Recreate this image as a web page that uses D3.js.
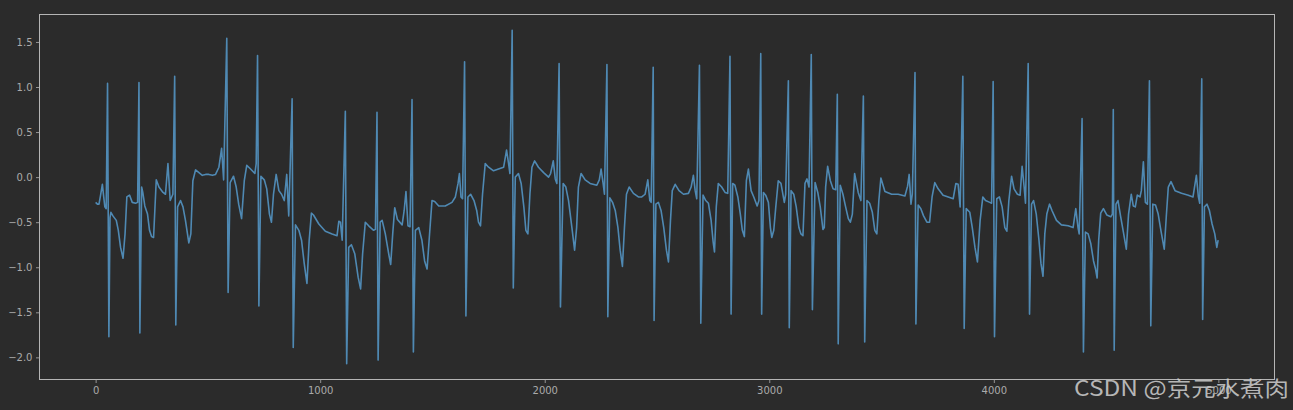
<!DOCTYPE html>
<html>
<head>
<meta charset="utf-8">
<script src="https://cdn.jsdelivr.net/npm/d3@7"></script>
<style>
  html, body { margin: 0; padding: 0; background: #2b2b2b; }
  svg { display: block; }
</style>
</head>
<body>
<svg id="chart" width="1293" height="410"></svg>
<script>
// Sample index (x) and signal value (y)
const sampleIndex = [
0,8,15,22,30,36,41,47,53,59,64,68,77,92,101,111,122,131,139,151,163,178,187,193,197,205,210,219,231,240,249,258,270,282,300,311,322,332,344,352,357,365,378,389,400,415,424,433,445,460,475,490,504,520,534,549,561,570,584,590,599,614,626,637,650,662,673,690,709,715,721,727,736,751,762,774,783,792,804,816,828,840,851,860,875,880,890,905,917,929,941,951,961,970,994,1023,1053,1075,1083,1090,1098,1112,1118,1127,1139,1154,1169,1180,1189,1201,1216,1238,1246,1253,1258,1267,1276,1290,1305,1314,1323,1332,1344,1365,1374,1382,1391,1400,1409,1415,1424,1439,1453,1465,1476,1486,1498,1510,1528,1557,1587,1602,1614,1620,1627,1634,1643,1649,1658,1670,1685,1697,1705,1714,1723,1735,1750,1772,1794,1817,1830,1839,1845,1855,1860,1869,1883,1895,1907,1916,1925,1934,1943,1955,1972,1995,2017,2026,2038,2047,2054,2064,2070,2082,2094,2106,2121,2133,2142,2150,2162,2180,2202,2232,2243,2251,2260,2266,2277,2281,2290,2302,2314,2326,2336,2346,2355,2364,2376,2395,2417,2432,2447,2459,2468,2474,2483,2487,2495,2506,2518,2530,2542,2551,2560,2568,2581,2598,2618,2640,2652,2662,2670,2677,2689,2695,2705,2717,2729,2741,2750,2756,2764,2773,2788,2803,2815,2825,2830,2837,2847,2860,2871,2880,2889,2898,2907,2919,2931,2946,2954,2962,2966,2974,2984,2996,3005,3011,3020,3029,3040,3052,3067,3073,3085,3089,3097,3109,3120,3132,3141,3150,3159,3168,3177,3187,3192,3204,3216,3227,3239,3245,3251,3260,3272,3284,3296,3303,3307,3316,3328,3340,3352,3361,3370,3380,3396,3408,3419,3425,3435,3447,3459,3470,3479,3488,3497,3515,3545,3574,3604,3616,3623,3631,3637,3649,3653,3663,3675,3687,3702,3714,3725,3737,3752,3774,3797,3819,3831,3841,3850,3862,3868,3877,3893,3904,3916,3927,3939,3951,3963,3982,3990,3997,4003,4013,4025,4037,4049,4058,4067,4079,4090,4105,4117,4126,4135,4141,4153,4159,4168,4177,4189,4201,4210,4219,4227,4236,4248,4259,4279,4301,4331,4353,4365,4375,4380,4393,4399,4408,4420,4432,4444,4453,4460,4467,4476,4488,4503,4521,4528,4532,4536,4544,4553,4565,4577,4590,4600,4612,4621,4630,4639,4651,4657,4666,4675,4684,4693,4699,4708,4720,4732,4744,4759,4768,4777,4789,4807,4836,4866,4887,4902,4911,4917,4926,4930,4938,4949,4960,4972,4984,4993,4999
];
const signalValues = [
-0.28,-0.30,-0.30,-0.20,-0.08,-0.22,-0.33,-0.35,1.04,-1.77,-0.45,-0.39,-0.43,-0.48,-0.59,-0.78,-0.90,-0.63,-0.22,-0.20,-0.28,-0.29,-0.28,1.05,-1.73,-0.11,-0.17,-0.32,-0.41,-0.59,-0.66,-0.67,-0.03,-0.11,-0.17,-0.19,0.15,-0.26,-0.19,1.12,-1.64,-0.33,-0.26,-0.33,-0.48,-0.73,-0.63,-0.04,0.08,0.05,0.02,0.03,0.03,0.02,0.03,0.11,0.32,-0.03,1.54,-1.28,-0.06,0.01,-0.11,-0.30,-0.46,-0.04,0.13,0.09,0.04,0.15,1.35,-1.43,0.01,-0.03,-0.13,-0.41,-0.50,-0.19,0.03,-0.15,-0.19,-0.26,0.03,-0.43,0.87,-1.89,-0.53,-0.59,-0.70,-0.96,-1.18,-0.70,-0.40,-0.42,-0.52,-0.60,-0.63,-0.65,-0.49,-0.50,-0.70,0.73,-2.07,-0.78,-0.75,-0.85,-1.11,-1.24,-0.85,-0.50,-0.54,-0.59,-0.58,0.72,-2.03,-0.50,-0.48,-0.63,-0.85,-0.97,-0.63,-0.34,-0.47,-0.53,-0.37,-0.16,-0.54,-0.55,0.86,-1.94,-0.59,-0.56,-0.70,-0.93,-1.02,-0.67,-0.26,-0.27,-0.32,-0.32,-0.28,-0.22,-0.07,0.04,-0.22,-0.24,1.28,-1.54,-0.22,-0.19,-0.26,-0.37,-0.50,-0.54,-0.19,0.15,0.11,0.07,0.09,0.11,0.30,0.15,0.04,1.63,-1.23,0.00,0.04,-0.07,-0.33,-0.59,-0.63,-0.19,0.11,0.18,0.11,0.05,0.00,0.04,0.18,-0.02,-0.07,1.26,-1.44,-0.07,-0.11,-0.26,-0.56,-0.81,-0.56,-0.11,0.04,-0.03,-0.07,-0.09,-0.03,0.09,-0.07,-0.19,1.25,-1.55,-0.23,-0.28,-0.37,-0.56,-0.81,-0.99,-0.56,-0.19,-0.11,-0.18,-0.22,-0.22,-0.19,-0.03,-0.26,-0.28,1.22,-1.59,-0.30,-0.28,-0.37,-0.56,-0.81,-0.94,-0.48,-0.15,-0.08,-0.15,-0.19,-0.18,-0.11,0.02,-0.15,-0.24,1.24,-1.62,-0.20,-0.26,-0.29,-0.48,-0.72,-0.83,-0.33,-0.07,-0.11,-0.17,-0.18,1.34,-1.52,-0.07,-0.09,-0.22,-0.41,-0.59,-0.66,-0.04,0.09,-0.15,-0.22,-0.32,-0.26,1.37,-1.52,-0.17,-0.20,-0.28,-0.56,-0.67,-0.59,-0.33,-0.04,-0.07,-0.28,-0.19,1.07,-1.67,-0.15,-0.19,-0.33,-0.56,-0.63,-0.65,-0.07,-0.02,-0.11,1.36,-1.47,-0.06,-0.17,-0.33,-0.58,-0.56,-0.11,0.12,-0.04,-0.13,-0.14,0.92,-1.85,-0.09,-0.19,-0.33,-0.46,-0.50,-0.41,0.04,-0.17,-0.26,0.90,-1.83,-0.26,-0.29,-0.39,-0.59,-0.63,-0.26,-0.01,-0.16,-0.19,-0.19,-0.21,-0.10,0.03,-0.30,-0.19,1.16,-1.63,-0.31,-0.35,-0.43,-0.50,-0.50,-0.22,-0.06,-0.13,-0.20,-0.22,-0.24,-0.07,-0.08,-0.33,1.12,-1.68,-0.35,-0.39,-0.56,-0.78,-0.94,-0.48,-0.22,-0.26,-0.28,-0.29,1.06,-1.77,-0.24,-0.22,-0.33,-0.56,-0.60,-0.26,0.01,-0.13,-0.19,-0.20,0.12,-0.11,-0.29,1.26,-1.52,-0.30,-0.26,-0.41,-0.70,-0.96,-1.10,-0.63,-0.41,-0.30,-0.37,-0.48,-0.53,-0.54,-0.56,-0.35,-0.56,-0.63,0.65,-1.94,-0.61,-0.63,-0.74,-0.93,-1.02,-1.12,-0.70,-0.40,-0.35,-0.42,-0.44,-0.41,0.75,-1.92,-0.30,-0.26,-0.44,-0.61,-0.80,-0.41,-0.19,-0.32,-0.33,-0.20,-0.22,-0.15,0.17,-0.28,-0.30,1.07,-1.65,-0.30,-0.31,-0.41,-0.59,-0.80,-0.44,-0.11,-0.05,-0.15,-0.18,-0.20,-0.22,0.02,-0.22,-0.29,1.09,-1.58,-0.33,-0.30,-0.37,-0.52,-0.63,-0.78,-0.70
];
const xTickValues = [0, 1000, 2000, 3000, 4000, 5000];
const yTickValues = [-2.0, -1.5, -1.0, -0.5, 0.0, 0.5, 1.0, 1.5];
const watermarkText = "CSDN @京元水煮肉";

const points = sampleIndex.map((x, i) => ({ x: x, y: signalValues[i] }));

const svg = d3.select("#chart");
const W = 1293, H = 410;
const margin = { left: 39.5, right: 1274.5, top: 14.5, bottom: 379.5 };

svg.append("rect").attr("x", 0).attr("y", 0).attr("width", W).attr("height", H).attr("fill", "#2b2b2b");

const x = d3.scaleLinear().domain([-250, 5249.95]).range([margin.left, margin.right]);
const y = d3.scaleLinear().domain([-2.2455, 1.8045]).range([margin.bottom, margin.top]);

// line
const line = d3.line().x(d => x(d.x)).y(d => y(d.y));
svg.append("path")
  .datum(points)
  .attr("d", line)
  .attr("fill", "none")
  .attr("stroke", "#4f89b3")
  .attr("stroke-width", 1.6)
  .attr("stroke-linejoin", "round");

// spines
svg.append("rect")
  .attr("x", margin.left).attr("y", margin.top)
  .attr("width", margin.right - margin.left).attr("height", margin.bottom - margin.top)
  .attr("fill", "none").attr("stroke", "#b5b5b5").attr("stroke-width", 1);

const fmt = d3.format(".1f");

const xAxis = svg.append("g")
  .attr("transform", `translate(0,${margin.bottom})`)
  .call(d3.axisBottom(x).tickValues(xTickValues).tickSize(3.5).tickPadding(3.5).tickFormat(d3.format("d")));
const yAxis = svg.append("g")
  .attr("transform", `translate(${margin.left},0)`)
  .call(d3.axisLeft(y).tickValues(yTickValues).tickSize(3.5).tickPadding(3.5).tickFormat(fmt));

[xAxis, yAxis].forEach(g => {
  g.select(".domain").remove();
  g.selectAll(".tick line").attr("stroke", "#b0b0b0").attr("stroke-width", 0.8);
  g.selectAll(".tick text")
    .attr("fill", "#aaaaaa")
    .style("font-family", "'DejaVu Sans', sans-serif")
    .style("font-size", "10px");
});

// watermark
svg.append("text")
  .attr("x", 1074)
  .attr("y", 396)
  .attr("textLength", 215)
  .attr("lengthAdjust", "spacingAndGlyphs")
  .style("font-family", "'Noto Sans CJK SC', 'Noto Sans', sans-serif")
  .style("font-size", "21px")
  .attr("fill", "#d0d0d0")
  .attr("fill-opacity", 0.85)
  .text(watermarkText);
</script>
</body>
</html>
